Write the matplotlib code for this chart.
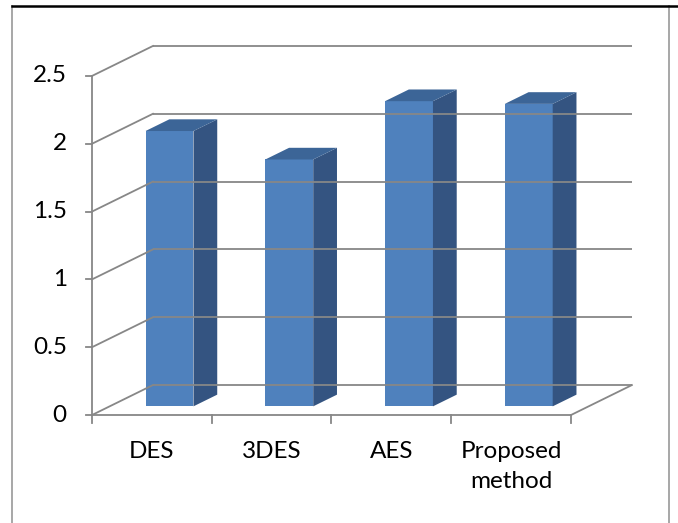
import matplotlib.pyplot as plt
from matplotlib.patches import Polygon

##========== Data ==========##
categories = ['DES', '3DES', 'AES', 'Proposed\nmethod']
values = [2.03, 1.82, 2.25, 2.23]
y_ticks = [0, 0.5, 1, 1.5, 2, 2.5]
y_labels = ['0', '0.5', '1', '1.5', '2', '2.5']

##========== 3D look (oblique projection) ==========##
dx, dy = 0.509, 0.221      # depth vector in data units
f0, f1 = 0.29, 0.68        # bar depth range (fraction of depth)
bar_w = 0.40

grid_col = '#878787'
front_col = '#4f81bd'
side_col = '#345481'
top_col = '#3c6597'

plt.rcParams['font.family'] = ['Lato', 'DejaVu Sans']

fig = plt.figure(figsize=(6.78, 5.23), dpi=100)
ax = fig.add_axes([0, 0, 1, 1])
ax.set_xlim(-0.768, 4.894)
ax.set_ylim(-0.796, 3.060)
ax.axis('off')

n = len(categories)

# back wall gridlines + side wall lines
for v in y_ticks:
    ax.plot([dx, n + dx], [v + dy, v + dy], color=grid_col, lw=1.3, solid_capstyle='butt')
    ax.plot([0, dx], [v, v + dy], color=grid_col, lw=1.3)
# floor
ax.plot([0, n], [0, 0], color=grid_col, lw=1.3)
ax.plot([n, n + dx], [0, dy], color=grid_col, lw=1.3)
# front value axis
ax.plot([0, 0], [0, y_ticks[-1]], color=grid_col, lw=1.3)
for v, lab in zip(y_ticks, y_labels):
    ax.plot([-0.05, 0], [v, v], color=grid_col, lw=1.3)
    ax.text(-0.21, v, lab, ha='right', va='center', fontsize=17.5, color='black')
for i in range(n + 1):
    ax.plot([i, i], [0, -0.058], color=grid_col, lw=1.3)

# bars
for i, (cat, v) in enumerate(zip(categories, values)):
    x0 = i + 0.5 - bar_w / 2
    x1 = i + 0.5 + bar_w / 2
    ox0, oy0 = f0 * dx, f0 * dy
    ox1, oy1 = f1 * dx, f1 * dy
    front = [(x0 + ox0, oy0), (x1 + ox0, oy0), (x1 + ox0, v + oy0), (x0 + ox0, v + oy0)]
    side = [(x1 + ox0, oy0), (x1 + ox1, oy1), (x1 + ox1, v + oy1), (x1 + ox0, v + oy0)]
    top = [(x0 + ox0, v + oy0), (x1 + ox0, v + oy0), (x1 + ox1, v + oy1), (x0 + ox1, v + oy1)]
    ax.add_patch(Polygon(front, closed=True, facecolor=front_col, edgecolor='none'))
    ax.add_patch(Polygon(side, closed=True, facecolor=side_col, edgecolor='none'))
    ax.add_patch(Polygon(top, closed=True, facecolor=top_col, edgecolor='none'))
    ax.text(i + 0.5, -0.19, cat, ha='center', va='top', fontsize=17.5,
            color='black', linespacing=1.55)

# outer frame
fig.add_artist(plt.Line2D([12 / 678, 12 / 678], [0, 1 - 6 / 523], transform=fig.transFigure,
                          color='#a0a0a0', lw=1.3))
fig.add_artist(plt.Line2D([669 / 678, 669 / 678], [0, 1 - 6 / 523], transform=fig.transFigure,
                          color='#a0a0a0', lw=1.3))
fig.add_artist(plt.Line2D([12 / 678, 1], [1 - 6 / 523, 1 - 6 / 523], transform=fig.transFigure,
                          color='black', lw=1.8))

fig.savefig('out.png', dpi=100)
